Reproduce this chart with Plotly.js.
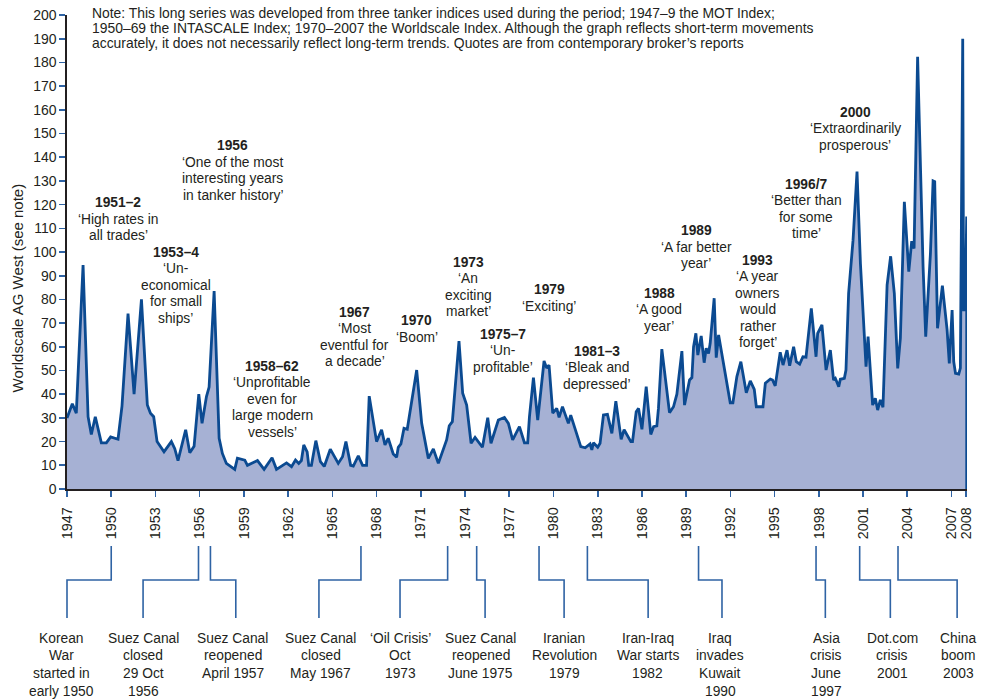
<!DOCTYPE html>
<html>
<head>
<meta charset="utf-8">
<script src="https://cdn.plot.ly/plotly-3.0.1.min.js"></script>
<style>html,body{margin:0;padding:0;background:#fff;}#chart{width:984px;height:700px;}</style>
</head>
<body>
<div id="chart"></div>
<script>
// ---- Data: Worldscale AG West tanker index ----
const years = [
1947.0,1947.36,1947.63,1948.09,1948.43,1948.65,1948.92,1949.33,1949.67,1949.96,
1950.46,1950.73,1951.14,1951.55,1952.05,1952.45,1952.66,1952.88,1953.11,1953.58,
1954.08,1954.31,1954.53,1955.05,1955.33,1955.62,1955.94,1956.16,1956.46,1956.64,
1956.98,1957.32,1957.54,1957.81,1958.38,1958.56,1959.06,1959.24,1959.92,1960.37,
1960.91,1961.21,1961.89,1962.23,1962.5,1962.72,1962.9,1963.06,1963.29,1963.4,
1963.58,1963.88,1964.19,1964.45,1964.86,1965.4,1965.69,1965.92,1966.24,1966.42,
1966.76,1967.05,1967.32,1967.5,1968.0,1968.34,1968.57,1968.79,1969.13,1969.36,
1969.47,1969.65,1969.86,1970.08,1970.72,1971.06,1971.51,1971.85,1972.19,1972.75,
1972.93,1973.14,1973.59,1973.84,1974.11,1974.41,1974.68,1975.18,1975.54,1975.76,
1976.26,1976.67,1976.94,1977.23,1977.69,1978.03,1978.25,1978.37,1978.64,1978.93,
1979.36,1979.54,1979.7,1979.95,1980.22,1980.38,1980.61,1981.01,1981.17,1981.53,
1981.85,1982.15,1982.48,1982.6,1982.71,1983.0,1983.16,1983.39,1983.66,1983.96,
1984.23,1984.59,1984.79,1985.25,1985.36,1985.61,1985.77,1986.0,1986.29,1986.6,
1986.79,1987.01,1987.12,1987.35,1987.87,1988.14,1988.37,1988.71,1988.89,1989.23,
1989.39,1989.5,1989.66,1989.79,1990.02,1990.22,1990.36,1990.52,1990.63,1990.9,
1991.04,1991.2,1991.49,1991.99,1992.17,1992.44,1992.71,1993.08,1993.35,1993.62,
1993.76,1994.21,1994.37,1994.71,1994.86,1995.04,1995.38,1995.57,1995.84,1996.02,
1996.29,1996.47,1996.7,1996.92,1997.13,1997.49,1997.81,1997.92,1998.21,1998.49,
1998.78,1999.0,1999.12,1999.35,1999.46,1999.73,1999.84,2000.02,2000.32,2000.59,
2000.82,2001.2,2001.34,2001.65,2001.83,2001.99,2002.17,2002.35,2002.63,2002.87,
2003.12,2003.35,2003.53,2003.8,2004.1,2004.3,2004.46,2004.7,2005.07,2005.25,
2005.57,2005.75,2005.86,2006.05,2006.38,2006.7,2006.85,2007.04,2007.15,2007.27,
2007.49,2007.6,2007.76,2007.82,2007.88,2007.93,2008.03,2008.03
];
const worldscale = [
30,36,32,94.5,30.5,23,30.5,19.5,19.5,22,
21,35,74,40,80,35.5,32,30.5,20,15.7,
20,17,12,25,15.3,18,40,27.7,39,43,
83.5,21.4,15,10.8,8.3,13,12.2,10,12,8.3,
13.2,8.3,11,9.4,12.2,10.8,12,18.6,15.7,10,
10,20.4,11.5,9.5,16.8,10.8,13.6,20,10,9.7,
14,10,10,39.2,20,25,18.6,21.4,14.8,13.4,
17.6,19,25.6,25.2,50.2,27.7,12.9,16.9,10.8,20.7,
26.7,28.4,62.4,40.4,35.4,19.3,21.8,17.6,30.1,19.3,
29.1,30.2,27.7,20.7,26.3,19.5,19.5,30.5,47,29.1,
54,51,52.3,32,34,30.2,34.7,27.7,31.2,23.8,
17.9,17.4,19,16.5,19.5,17.6,19.3,31.2,31.5,23.5,
37.1,21,25,20,20,32.6,34,25.2,43.2,23,
26.3,26.6,34,59,32.2,34.7,40,58.2,35.4,46,
47,60,65.7,56.5,64.6,53.3,59.4,57.2,61.5,80.5,
55.4,65,54.4,36.4,36.4,47.4,53.7,40.6,45.6,42,
34.7,34.7,44.6,46.4,46,43.5,57.7,52.3,58.6,52,
60,53.7,52.7,55.8,55.6,76.2,55.8,65.7,69.2,50.2,
58.6,46,46.7,43.2,46.3,46.7,50.2,82.6,105,133.9,
95.2,51.6,64.3,35.4,38.3,33.3,37.6,34.5,86,98.2,
82.6,50.9,63.6,121.2,91.7,104.6,101.5,182.4,93.8,64.3,
99.4,130,129.7,67.8,85.8,67.1,53,75.5,53.7,48.8,
48.5,51,190,75,97,75,115,0
];

const tickYears = [1947,1950,1953,1956,1959,1962,1965,1968,1971,1974,1977,1980,1983,1986,1989,1992,1995,1998,2001,2004,2007,2008];
const tickLabels = tickYears.map(String);
const yTicks = [0,10,20,30,40,50,60,70,80,90,100,110,120,130,140,150,160,170,180,190,200];

// Broker quotes
const quoteHeads = ['1951–2','1956','1953–4','1958–62','1967','1970','1973','1975–7','1979','1981–3','1988','1989','1993','1996/7','2000','2004'];
const quoteLines = [
  ['‘High rates in','all trades’'],
  ['‘One of the most','interesting years','in tanker history’'],
  ['‘Un-','economical','for small','ships’'],
  ['‘Unprofitable','even for','large modern','vessels’'],
  ['‘Most','eventful for','a decade’'],
  ['‘Boom’'],
  ['‘An','exciting','market’'],
  ['‘Un-','profitable’'],
  ['‘Exciting’'],
  ['‘Bleak and','depressed’'],
  ['‘A good','year’'],
  ['‘A far better','year’'],
  ['‘A year','owners','would','rather','forget’'],
  ['‘Better than','for some','time’'],
  ['‘Extraordinarily','prosperous’'],
  ['‘As good as','it gets’']
];

// Events below the axis
const eventLines = [
  ['Korean','War','started in','early 1950'],
  ['Suez Canal','closed','29 Oct','1956'],
  ['Suez Canal','reopened','April 1957'],
  ['Suez Canal','closed','May 1967'],
  ['‘Oil Crisis’','Oct','1973'],
  ['Suez Canal','reopened','June 1975'],
  ['Iranian','Revolution','1979'],
  ['Iran-Iraq','War starts','1982'],
  ['Iraq','invades','Kuwait','1990'],
  ['Asia','crisis','June','1997'],
  ['Dot.com','crisis','2001'],
  ['China','boom','2003']
];

const noteLines = [
  'Note: This long series was developed from three tanker indices used during the period; 1947–9 the MOT Index;',
  '1950–69 the INTASCALE Index; 1970–2007 the Worldscale Index. Although the graph reflects short-term movements',
  'accurately, it does not necessarily reflect long-term trends. Quotes are from contemporary broker’s reports'
];

// ---- Layout settings (positions) ----
const X0 = 1947, X1 = 2008.05;
const ML = 67, MR = 17, MT = 15, MB = 211;
const PW = 984 - ML - MR, PH = 700 - MT - MB;
const px2paperX = X => (X - ML) / PW;
const px2paperY = Y => (MT + PH - Y) / PH;
const yr2paper = y => (y - X0) / (X1 - X0);

// quote anchor positions [year, value] of the first (bold) line
const quotePos = [[1950.48,120.8],[1958.25,144.9],[1954.36,100],[1960.92,51.9],[1966.53,74.6],[1970.72,71],
  [1974.22,95.7],[1976.56,65.3],[1979.72,84],[1982.94,58.2],[1987.17,82.6],[1989.68,109],[1993.84,96.6],
  [1997.13,128.6],[2000.48,158.9],[2004.66,202.5]];
// event bracket positions (years)
const evTop = [1950.0,1955.92,1956.73,1966.94,1972.82,1974.79,1979.02,1982.3,1989.84,1997.81,2000.77,2003.37];
const evBot = [1947.0,1952.16,1958.45,1964.09,1969.59,1975.36,1980.72,1986.42,1991.43,1998.44,2002.85,2007.38];
const evLab = [1946.65,1952.16,1958.23,1964.22,1969.59,1975.08,1980.72,1986.38,1991.31,1998.5,2002.97,2007.45];

const FONT = '"Liberation Sans", Arial, Helvetica, sans-serif';
const TXT = '#231f20';
const annotations = [];
const shapes = [];

// quotes
quoteHeads.forEach((h, i) => {
  const [qx, qy] = quotePos[i];
  annotations.push({x: qx, y: qy, xref: 'x', yref: 'y', text: '<b>' + h + '</b>', showarrow: false,
    xanchor: 'center', yanchor: 'middle', font: {family: FONT, size: 13.8, color: TXT}});
  quoteLines[i].forEach((t, j) => {
    annotations.push({x: qx, y: qy, xref: 'x', yref: 'y', text: t, showarrow: false, yshift: -16.5 * (j + 1),
      xanchor: 'center', yanchor: 'middle', font: {family: FONT, size: 13.8, color: TXT}});
  });
});

// note
noteLines.forEach((t, j) => {
  annotations.push({x: px2paperX(90), y: px2paperY(12.7), xref: 'paper', yref: 'paper', text: t, showarrow: false,
    yshift: -15.3 * j, xanchor: 'left', yanchor: 'middle', font: {family: FONT, size: 13.9, color: TXT}});
});

// y title
annotations.push({x: px2paperX(16.5), y: px2paperY(288), xref: 'paper', yref: 'paper', text: 'Worldscale AG West (see note)',
  textangle: -90, showarrow: false, xanchor: 'center', yanchor: 'middle', font: {family: FONT, size: 15, color: TXT}});

// events
const yTop = px2paperY(546), yMid = px2paperY(580), yBot = px2paperY(618), yLab = px2paperY(638.3);
const BR = {color: '#2f63a4', width: 1.6};
eventLines.forEach((lines, i) => {
  const xt = yr2paper(evTop[i]), xb = yr2paper(evBot[i]);
  shapes.push({type: 'path', xref: 'paper', yref: 'paper',
    path: `M${xt},${yTop} L${xt},${yMid} L${xb},${yMid} L${xb},${yBot}`, line: BR});
  lines.forEach((t, j) => {
    annotations.push({x: yr2paper(evLab[i]), y: yLab, xref: 'paper', yref: 'paper', text: t, showarrow: false,
      yshift: -17.6 * j, xanchor: 'center', yanchor: 'middle', font: {family: FONT, size: 13.8, color: TXT}});
  });
});

const trace = {
  x: years, y: worldscale, type: 'scatter', mode: 'lines', fill: 'tozeroy',
  fillcolor: '#a6b1d4', line: {color: '#0b4a91', width: 2.8, shape: 'linear'}, hoverinfo: 'skip', cliponaxis: false
};

const layout = {
  width: 984, height: 700,
  margin: {l: ML, r: MR, t: MT, b: MB, pad: 0},
  paper_bgcolor: '#fff', plot_bgcolor: '#fff',
  showlegend: false,
  font: {family: FONT, color: TXT, size: 14},
  xaxis: {range: [X0, X1], tickvals: tickYears, ticktext: tickLabels, tickangle: -90, ticklabelstandoff: 5,
    ticks: 'outside', ticklen: 6, tickwidth: 1.6, tickcolor: '#2f63a4', showgrid: false, zeroline: false,
    showline: true, linecolor: '#231f20', linewidth: 1.6, tickfont: {family: FONT, size: 14.4, color: TXT}, fixedrange: true},
  yaxis: {range: [0, 200], tickvals: yTicks, ticks: 'outside', ticklen: 6, tickwidth: 1.6, tickcolor: '#2f63a4',
    showgrid: false, zeroline: false, showline: true, linecolor: '#231f20', linewidth: 1.6,
    tickfont: {family: FONT, size: 14, color: TXT}, fixedrange: true},
  annotations: annotations,
  shapes: shapes
};

Plotly.newPlot('chart', [trace], layout, {staticPlot: true, displayModeBar: false});
</script>
</body>
</html>
